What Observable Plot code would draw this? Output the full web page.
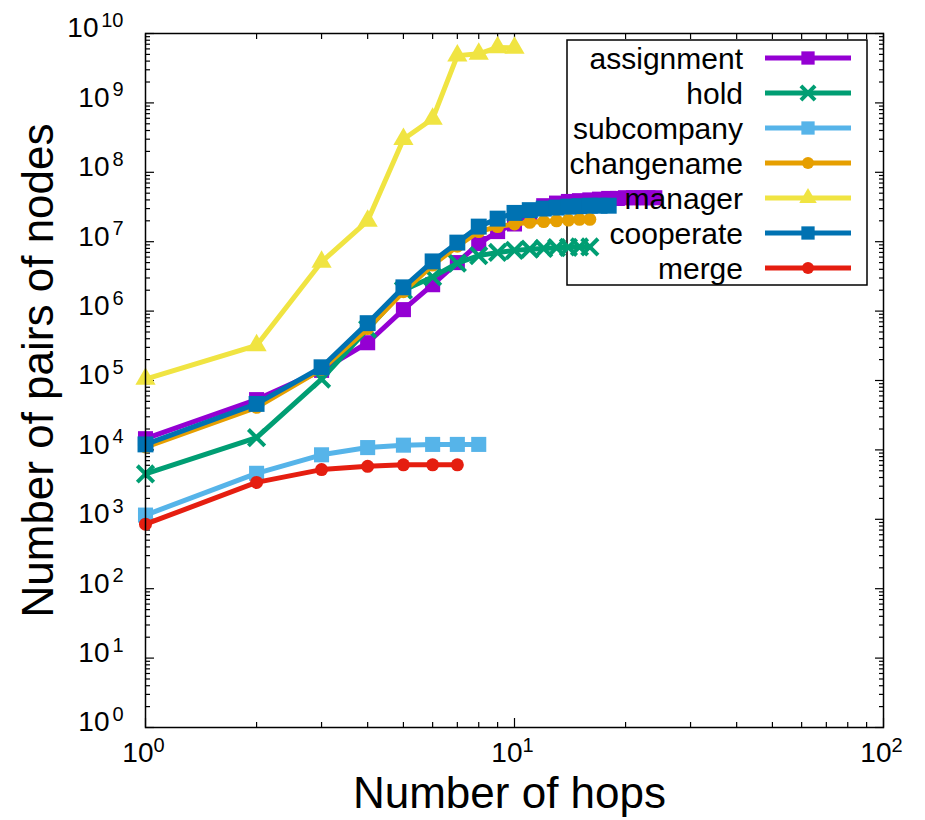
<!DOCTYPE html>
<html>
<head>
<meta charset="utf-8">
<script src="https://cdn.jsdelivr.net/npm/d3@7"></script>
<script src="https://cdn.jsdelivr.net/npm/@observablehq/plot@0.6"></script>
<style>
  body { margin: 0; background: #fff; font-family: "Liberation Sans", Arial, sans-serif; }
  #wrap { width: 925px; height: 820px; }
  #wrap svg { display: block; }
</style>
</head>
<body>
<div id="wrap"></div>
<script>
// ---------- data ----------
const hops = [1, 2, 3, 4, 5, 6, 7, 8, 9, 10, 11, 12, 13, 14, 15, 16, 17, 18, 19, 20, 21, 22, 23, 24];

const assignment = [1.45e4, 5.3e4, 1.4e5, 3.5e5, 1.05e6, 2.4e6, 5.0e6, 9.4e6, 1.4e7, 1.8e7, 2.6e7, 3.3e7,
                    3.6e7, 3.8e7, 3.9e7, 4.0e7, 4.1e7, 4.2e7, 4.2e7, 4.3e7, 4.3e7, 4.3e7, 4.3e7, 4.3e7];
const hold = [4.5e3, 1.5e4, 1.05e5, 5.5e5, 2.0e6, 3.1e6, 4.9e6, 6.3e6, 7.0e6, 7.5e6, 7.8e6, 8.0e6,
              8.2e6, 8.3e6, 8.4e6, 8.4e6];
const subcompany = [1.15e3, 4.6e3, 8.5e3, 1.08e4, 1.17e4, 1.2e4, 1.2e4, 1.2e4];
const changename = [1.1e4, 4.1e4, 1.45e5, 5.6e5, 1.9e6, 4.6e6, 8.6e6, 1.4e7, 1.65e7, 1.8e7, 1.9e7, 1.95e7,
                    2.0e7, 2.05e7, 2.1e7, 2.1e7];
const manager = [1.05e5, 3.2e5, 5.1e6, 2.0e7, 3.0e8, 5.9e8, 4.8e9, 5.1e9, 6.3e9, 6.2e9];
const cooperate = [1.2e4, 4.6e4, 1.55e5, 6.7e5, 2.2e6, 5.2e6, 9.7e6, 1.65e7, 2.15e7, 2.6e7, 2.85e7, 3.0e7,
                   3.1e7, 3.2e7, 3.25e7, 3.3e7, 3.3e7, 3.3e7];
const merge = [850, 3.4e3, 5.2e3, 5.8e3, 6.1e3, 6.1e3, 6.1e3];

const seriesNames = ["assignment", "hold", "subcompany", "changename", "manager", "cooperate", "merge"];
const seriesValues = [assignment, hold, subcompany, changename, manager, cooperate, merge];

// tick labels
const xMajor = [1, 10, 100];
const xExp = ["0", "1", "2"];
const xMinor = [2, 3, 4, 5, 6, 7, 8, 9, 20, 30, 40, 50, 60, 70, 80, 90];
const yMajor = [1, 1e1, 1e2, 1e3, 1e4, 1e5, 1e6, 1e7, 1e8, 1e9, 1e10];
const yExp = ["0", "1", "2", "3", "4", "5", "6", "7", "8", "9", "10"];
const yMinor = yMajor.slice(0, -1).flatMap(d => [2, 3, 4, 5, 6, 7, 8, 9].map(k => k * d));

// ---------- styles ----------
const styles = {
  assignment: {color: "#9400D3", symbol: "square", r: 8.5},
  hold:       {color: "#009E73", symbol: "times", r: 7.5},
  subcompany: {color: "#56B4E9", symbol: "square", r: 8.5},
  changename: {color: "#E69F00", symbol: "circle", r: 6.5},
  manager:    {color: "#F0E442", symbol: "triangle", r: 7.5},
  cooperate:  {color: "#0072B2", symbol: "square", r: 9},
  merge:      {color: "#E51E10", symbol: "circle", r: 6.5}
};
const keyR = {square: 7.5, times: 6.5, circle: 6, triangle: 6.5};
const FONT = "'Liberation Sans', Arial, sans-serif";

// ---------- marks ----------
const marks = [];
const noText = () => "";
// inward ticks on all four sides
for (const [anchor, size, ticks] of [["bottom", -9, xMajor], ["bottom", -5, xMinor], ["top", -9, xMajor], ["top", -5, xMinor]]) {
  marks.push(Plot.axisX(ticks, {anchor, tickSize: size, tickFormat: noText, label: null, strokeWidth: 1.2}));
}
for (const [anchor, size, ticks] of [["left", -9, yMajor], ["left", -5, yMinor], ["right", -9, yMajor], ["right", -5, yMinor]]) {
  marks.push(Plot.axisY(ticks, {anchor, tickSize: size, tickFormat: noText, label: null, strokeWidth: 1.2}));
}

// series: line then points, in gnuplot plotting order
seriesNames.forEach((name, i) => {
  const rows = seriesValues[i].map((v, j) => ({hop: hops[j], value: v}));
  const st = styles[name];
  marks.push(Plot.line(rows, {x: "hop", y: "value", stroke: st.color, strokeWidth: 5, strokeLinejoin: "miter"}));
  if (st.symbol === "times") {
    marks.push(Plot.dot(rows, {x: "hop", y: "value", stroke: st.color, strokeWidth: 4, symbol: "times", r: st.r}));
  } else {
    marks.push(Plot.dot(rows, {x: "hop", y: "value", fill: st.color, stroke: "none", symbol: st.symbol, r: st.r}));
  }
});

marks.push(Plot.frame({stroke: "#000", strokeWidth: 1.5}));

const T = {fill: "#000", lineAnchor: "middle"};
// x tick labels 10^n
marks.push(Plot.text(xMajor, {...T, x: d => d, frameAnchor: "bottom", text: () => "10", textAnchor: "end", dx: 8, dy: 26, fontSize: 28}));
marks.push(Plot.text(xMajor, {...T, x: d => d, frameAnchor: "bottom", text: (d, i) => xExp[i], textAnchor: "start", dx: 8, dy: 18, fontSize: 20}));
// y tick labels 10^n
const yIdx1 = yMajor.map((d, i) => i).filter(i => yExp[i].length === 1);
const yIdx2 = yMajor.map((d, i) => i).filter(i => yExp[i].length === 2);
marks.push(Plot.text(yIdx1, {...T, y: i => yMajor[i], frameAnchor: "left", text: () => "10", textAnchor: "end", dx: -36, dy: -5, fontSize: 28}));
marks.push(Plot.text(yIdx2, {...T, y: i => yMajor[i], frameAnchor: "left", text: () => "10", textAnchor: "end", dx: -47, dy: -5, fontSize: 28}));
marks.push(Plot.text(yMajor, {...T, y: d => d, frameAnchor: "left", text: (d, i) => yExp[i], textAnchor: "end", dx: -22, dy: -13, fontSize: 20}));

// axis titles
marks.push(Plot.text(["Number of hops"], {...T, frameAnchor: "bottom", textAnchor: "middle", dx: -5, dy: 66, fontSize: 44}));
marks.push(Plot.text(["Number of pairs of nodes"], {...T, frameAnchor: "left", textAnchor: "middle", dx: -107, dy: -10, rotate: -90, fontSize: 44}));

const chart = Plot.plot({
  width: 925,
  height: 820,
  marginLeft: 145,
  marginRight: 42,
  marginTop: 33,
  marginBottom: 93,
  x: {type: "log", domain: [1, 100]},
  y: {type: "log", domain: [1, 1e10]},
  style: {fontFamily: FONT, background: "#fff", color: "#000", overflow: "visible"},
  marks
});

// ---------- key (legend) ----------
const svg = d3.select(chart);
const KX = 567, KY = 40, KW = 300, KH = 245, ROW0 = 58, ROWH = 35;
// border drawn beneath the data, as in the original
svg.insert("rect", "g").attr("x", KX).attr("y", KY).attr("width", KW).attr("height", KH)
  .attr("fill", "none").attr("stroke", "#000").attr("stroke-width", 1.5);
const key = svg.append("g").attr("font-family", FONT);
const symMap = {square: d3.symbolSquare, circle: d3.symbolCircle, triangle: d3.symbolTriangle, times: d3.symbolTimes};
seriesNames.forEach((name, i) => {
  const st = styles[name];
  const cy = ROW0 + ROWH * i;
  const kr = keyR[st.symbol];
  key.append("text").attr("x", 743).attr("y", cy).attr("dy", "0.36em").attr("text-anchor", "end")
    .attr("font-size", 30).attr("fill", "#000").text(name);
  key.append("line").attr("x1", 765).attr("x2", 851).attr("y1", cy).attr("y2", cy)
    .attr("stroke", st.color).attr("stroke-width", 5);
  const p = key.append("path").attr("transform", `translate(808,${cy})`)
    .attr("d", d3.symbol(symMap[st.symbol], kr * kr * Math.PI)());
  if (st.symbol === "times") p.attr("fill", "none").attr("stroke", st.color).attr("stroke-width", 4);
  else p.attr("fill", st.color);
});

document.getElementById("wrap").appendChild(chart);
</script>
</body>
</html>
